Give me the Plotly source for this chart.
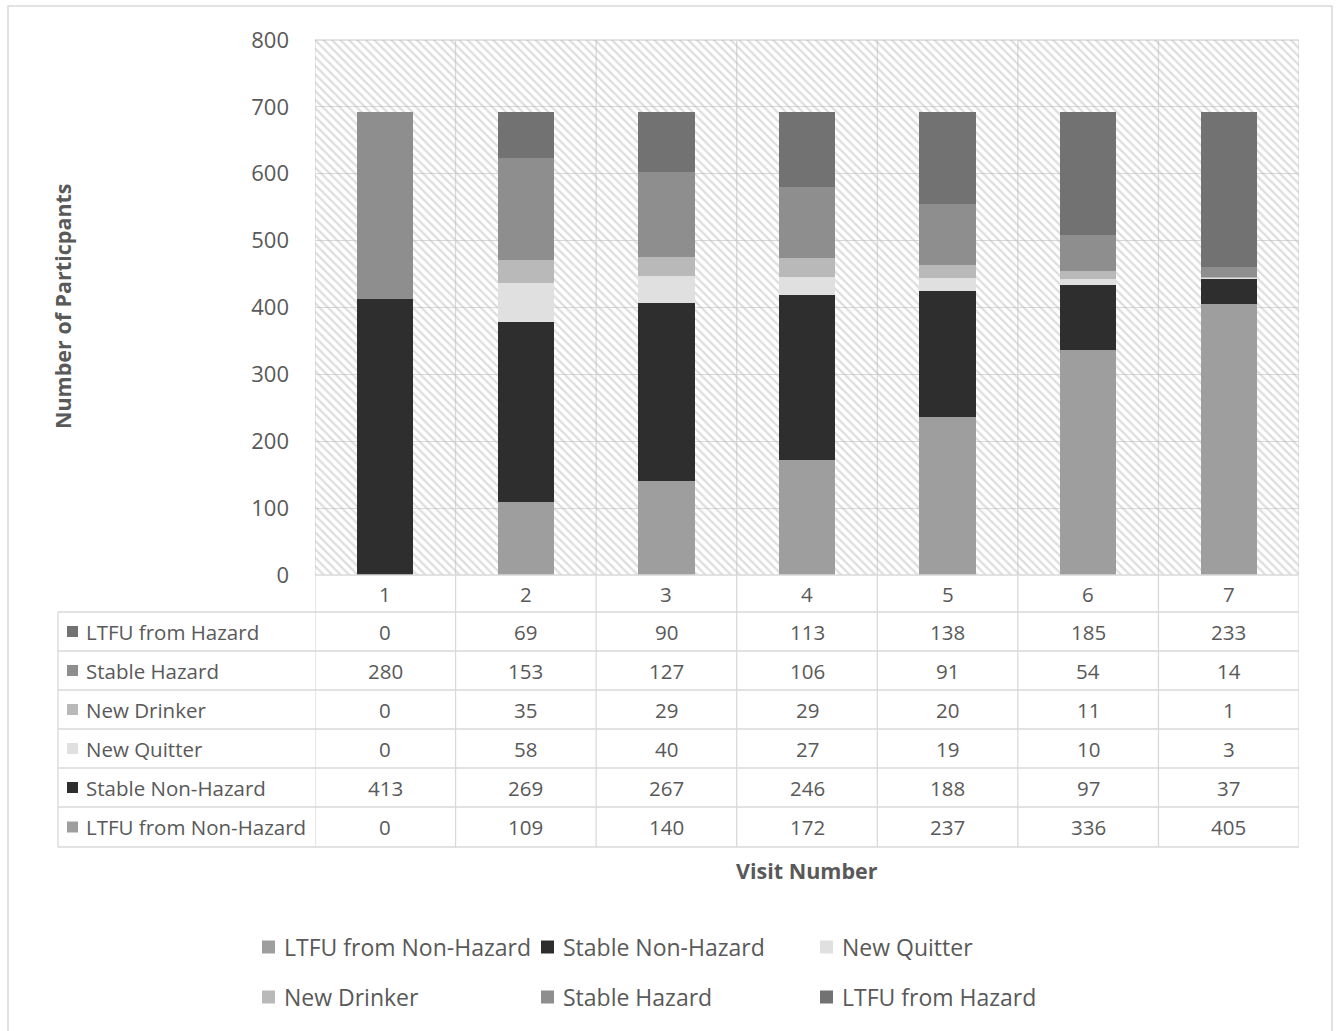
import plotly.graph_objects as go
import numpy as np

# ---------------- data ----------------
visits = [1, 2, 3, 4, 5, 6, 7]
visit_labels = ["1", "2", "3", "4", "5", "6", "7"]
ltfu_non_hazard = [0, 109, 140, 172, 237, 336, 405]
stable_non_hazard = [413, 269, 267, 246, 188, 97, 37]
new_quitter = [0, 58, 40, 27, 19, 10, 3]
new_drinker = [0, 35, 29, 29, 20, 11, 1]
stable_hazard = [280, 153, 127, 106, 91, 54, 14]
ltfu_hazard = [0, 69, 90, 113, 138, 185, 233]

series_names = ["LTFU from Non-Hazard", "Stable Non-Hazard", "New Quitter",
                "New Drinker", "Stable Hazard", "LTFU from Hazard"]
series_values = [ltfu_non_hazard, stable_non_hazard, new_quitter,
                 new_drinker, stable_hazard, ltfu_hazard]
series_colors = ["#9e9e9e", "#2e2e2e", "#e0e0e0", "#b9b9b9", "#8e8e8e", "#727272"]

y_ticks = [0, 100, 200, 300, 400, 500, 600, 700, 800]
y_max = 800

# ---------------- layout geometry (pixels) ----------------
W, H = 1339, 1031
L, R, T, B = 315, 1299, 40, 575
PW, PH = R - L, B - T
FONT = "Open Sans"
GREY = "#595959"
LINE = "#d9d9d9"
TF = 20.5


def px_x(p):
    return (p - L) / PW


def px_y(p):
    return (B - p) / PH


fig = go.Figure()

# hatched plot background on main axes
fig.add_trace(go.Bar(
    x=[(visits[0] + visits[-1]) / 2], y=[y_max], width=[len(visits)],
    marker=dict(color="rgba(0,0,0,0)", line=dict(width=0),
                pattern=dict(shape="\\", fgcolor="#bcbcbc", bgcolor="rgba(0,0,0,0)",
                             size=6, solidity=0.38)),
    xaxis="x", yaxis="y", hoverinfo="skip", showlegend=False))

# stacked bars on overlaying axes
for name, vals, col in zip(series_names, series_values, series_colors):
    fig.add_trace(go.Bar(x=visits, y=vals, name=name, marker=dict(color=col, line=dict(width=0)),
                         xaxis="x2", yaxis="y2", showlegend=False))

shapes = []
annotations = []

# vertical lines: category boundaries across plot and table
table_bottom = px_y(847)
for b in np.arange(0.5, len(visits) + 1, 1.0):
    shapes.append(dict(type="line", xref="x", yref="paper", x0=b, x1=b, y0=table_bottom, y1=1,
                       line=dict(color=LINE, width=1.3), layer="below"))
shapes.append(dict(type="line", xref="paper", yref="paper", x0=0, x1=1, y0=1, y1=1,
                   line=dict(color=LINE, width=1.3), layer="below"))
row_edges = [612, 651, 690, 729, 768, 807, 847]
table_left = px_x(58)
for re_ in row_edges:
    shapes.append(dict(type="line", xref="paper", yref="paper", x0=table_left, x1=1,
                       y0=px_y(re_), y1=px_y(re_), line=dict(color=LINE, width=1.3)))
shapes.append(dict(type="line", xref="paper", yref="paper", x0=table_left, x1=table_left,
                   y0=px_y(612), y1=px_y(847), line=dict(color=LINE, width=1.3)))
shapes.append(dict(type="line", xref="paper", yref="paper", x0=0, x1=1,
                   y0=0, y1=0, line=dict(color=LINE, width=1.3)))


def text(x, y, s, size, xref="paper", xanchor="center", angle=0):
    annotations.append(dict(x=x, y=y, xref=xref, yref="paper", text=s, showarrow=False,
                            xanchor=xanchor, yanchor="middle", textangle=angle,
                            font=dict(family=FONT, size=size, color=GREY)))


# header row: visit numbers
for v, lab in zip(visits, visit_labels):
    text(v, px_y(594), lab, TF, xref="x")

# table rows (top row = top of stack)
for i, idx in enumerate(range(len(series_names) - 1, -1, -1)):
    top, bot = row_edges[i], row_edges[i + 1]
    cyp = (top + bot) / 2
    cy = px_y(cyp)
    shapes.append(dict(type="rect", xref="paper", yref="paper",
                       x0=px_x(67), x1=px_x(78), y0=px_y(cyp + 5.5), y1=px_y(cyp - 5.5),
                       fillcolor=series_colors[idx], line=dict(width=0)))
    text(px_x(84), cy, series_names[idx], TF, xanchor="left")
    for v, val in zip(visits, series_values[idx]):
        text(v, cy, str(val), TF, xref="x")

# axis titles
text(px_x(62), px_y(306), "<b>Number of Particpants</b>", 21.5, angle=-90)
text(px_x(807), px_y(870), "<b>Visit Number</b>", 21.5)

# bottom legend (3 columns x 2 rows)
leg_x = [262, 541, 820]
leg_y = [947, 997]
for k, (name, col) in enumerate(zip(series_names, series_colors)):
    lx = leg_x[k % 3]
    ly = leg_y[k // 3]
    shapes.append(dict(type="rect", xref="paper", yref="paper",
                       x0=px_x(lx), x1=px_x(lx + 13), y0=px_y(ly + 6.5), y1=px_y(ly - 6.5),
                       fillcolor=col, line=dict(width=0)))
    text(px_x(lx + 20), px_y(ly), name, 23, xanchor="left")

# outer frame
shapes.append(dict(type="rect", xref="paper", yref="paper",
                   x0=px_x(8), x1=px_x(1332), y0=px_y(1040), y1=px_y(6),
                   line=dict(color=LINE, width=1.5), fillcolor="rgba(0,0,0,0)", layer="below"))

fig.update_layout(
    width=W, height=H,
    margin=dict(l=L, r=W - R, t=T, b=H - B, pad=0),
    paper_bgcolor="white", plot_bgcolor="white",
    barmode="stack", bargap=0.6,
    xaxis=dict(range=[0.5, len(visits) + 0.5], showgrid=False, showticklabels=False,
               zeroline=False, showline=False, fixedrange=True),
    yaxis=dict(range=[0, y_max], tickvals=y_ticks, showgrid=True, gridcolor=LINE, gridwidth=1.3,
               zeroline=False, showline=False, ticks="", ticklabelstandoff=25,
               tickfont=dict(family=FONT, size=22, color=GREY)),
    xaxis2=dict(overlaying="x", range=[0.5, len(visits) + 0.5], visible=False),
    yaxis2=dict(overlaying="y", range=[0, y_max], visible=False),
    shapes=shapes, annotations=annotations, showlegend=False,
)

fig.write_html("out.html")
